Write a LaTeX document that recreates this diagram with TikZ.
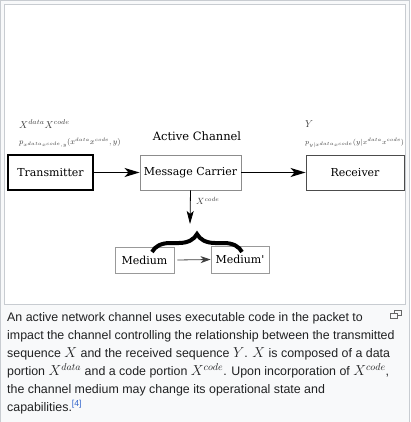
\documentclass[tikz,border=0pt]{standalone}
\usepackage{fontspec}
\setmainfont{Liberation Sans}
\newfontfamily\diag{DejaVu Serif}
\usetikzlibrary{arrows.meta,decorations.pathreplacing}
\definecolor{framegray}{HTML}{C8CCD1}
\definecolor{capbg}{HTML}{F8F9FA}
\definecolor{capink}{HTML}{202122}
\definecolor{reflink}{HTML}{3366CC}
\newcommand{\bm}[1]{{\fontsize{14.5}{15}\selectfont$#1$}}
\tikzset{
  blk/.style={draw=black, line width=1.3pt, fill=white, font=\diag\fontsize{11}{13}\selectfont, inner sep=0pt},
  gbox/.style={draw=#1, line width=0.9pt, fill=white, font=\diag\fontsize{11}{13}\selectfont, inner sep=0pt},
  bigarrow/.style={line width=1.3pt, -{Stealth[length=15pt,width=9pt,inset=4pt]}},
  thinarrow/.style={line width=0.8pt, -{Stealth[length=13pt,width=7pt,inset=3pt]}},
  lbl/.style={inner sep=0pt, font=\fontsize{7.6}{9}\selectfont, text=black!75},
  captext/.style={inner sep=0pt, anchor=base west, text=capink, font=\fontsize{12.4}{15}\selectfont},
}
\begin{document}
\begin{tikzpicture}[x=1pt,y=-1pt]
\useasboundingbox (0,0) rectangle (410,422);
% frame
\fill[capbg] (0,0) rectangle (410,422);
\draw[framegray, line width=1pt] (0.5,422) -- (0.5,0.5) -- (409.5,0.5) -- (409.5,422);
\draw[framegray, fill=white, line width=1pt] (4.5,4.5) rectangle (405,304);
% boxes
\node[blk, minimum width=85pt, minimum height=35pt] (tx) at (50.5,172.5) {Transmitter};
\node[gbox=black!45, minimum width=101pt, minimum height=35pt] (mc) at (190.5,172.5) {Message Carrier};
\node[gbox=black!70, minimum width=98pt, minimum height=35pt] (rx) at (355,172.5) {Receiver};
\node[gbox=black!40, minimum width=59pt, minimum height=26pt] (m1) at (144.5,260) {Medium};
\node[gbox=black!40, minimum width=58pt, minimum height=27pt] (m2) at (240,259.5) {Medium'};
% arrows
\draw[bigarrow] (tx.east) -- (mc.west);
\draw[bigarrow] (mc.east) -- (rx.west);
\coordinate (brtip) at (190,224);
\draw[thinarrow] (mc.south) -- (brtip);
\draw[black!75, line width=0.8pt, -{Stealth[length=10pt,width=7pt,inset=3pt]}] (m1.east) ++(3,0) -- (m2.west);
% brace
\coordinate (bl) at (152,252);
\coordinate (br) at (242,252);
\draw[line width=4pt, decorate, decoration={brace, amplitude=18pt, aspect=0.5}] (bl) -- (br);
% labels
\node[font=\diag\fontsize{11.5}{13}\selectfont, inner sep=0pt] (ac) at (197,136) {Active Channel};
\node[lbl, anchor=west, font=\fontsize{10}{11}\selectfont] (xl) at (19,124) {$X^{data}X^{code}$};
\node[lbl, anchor=west] (pl) at (19,143) {$p_{x^{data}x^{code},y}(x^{data}x^{code},y)$};
\node[lbl, anchor=west, font=\fontsize{10}{11}\selectfont] (yl) at (305,124) {$Y$};
\node[lbl, anchor=west, font=\fontsize{7.2}{9}\selectfont] (pyl) at (305,143) {$p_{y|x^{data}x^{code}}(y|x^{data}x^{code})$};
\node[lbl, anchor=west, font=\fontsize{9}{10}\selectfont] (xc) at (196,201) {$X^{code}$};
% caption
\node[captext] (c1) at (7,321.5) {An active network channel uses executable code in the packet to};
\node[captext] (c2) at (7,339.5) {impact the channel controlling the relationship between the transmitted};
\node[captext] (c3) at (7,357.5) {sequence \bm{X} and the received sequence \bm{Y}. \bm{X} is composed of a data};
\node[captext] (c4) at (7,375.5) {portion \bm{X^{data}} and a code portion \bm{X^{code}}. Upon incorporation of \bm{X^{code}},};
\node[captext] (c5) at (7,393) {the channel medium may change its operational state and};
\node[captext] (c6) at (7,411) {capabilities.\textsuperscript{\textcolor{reflink}{[4]}}};
% enlarge icon
\draw[black!60, line width=0.8pt] (390.5,313.5) rectangle (397.5,318.5);
\draw[black!60, line width=0.8pt] (394.5,313.5) -- (394.5,310.5) -- (401.5,310.5) -- (401.5,315.5) -- (397.5,315.5);
\end{tikzpicture}
\end{document}
